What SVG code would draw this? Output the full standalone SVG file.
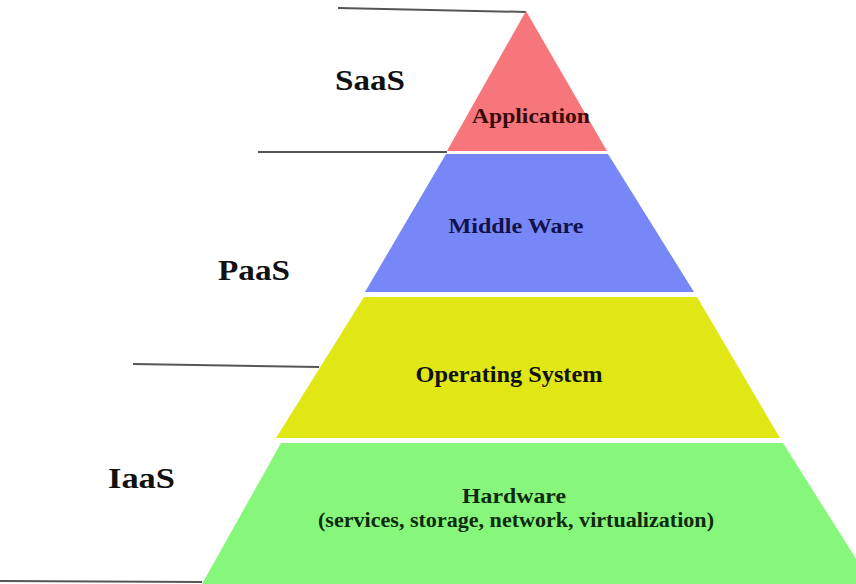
<svg xmlns="http://www.w3.org/2000/svg" width="856" height="584" viewBox="0 0 856 584">
<style>
.lbl{font-family:"Liberation Serif","Times New Roman",serif;font-weight:bold;fill:#111;}
.big{font-size:30px;}
.in{text-anchor:middle;}
.ln{stroke:#555;stroke-width:2;fill:none;}
</style>
<rect width="856" height="584" fill="#fff"/>
<g id="connectors">
<line class="ln" x1="338" y1="8" x2="526" y2="12"/>
<line class="ln" x1="258" y1="152" x2="447" y2="152"/>
<line class="ln" x1="133" y1="364" x2="319" y2="367"/>
<line class="ln" x1="0" y1="581" x2="202" y2="582"/>
</g>
<g id="application">
<polygon points="526,11 607,151 447,151" fill="#F7767C"/>
<text class="lbl in" x="531" y="123" style="font-size:21px;fill:#3a0a0a" textLength="118" lengthAdjust="spacingAndGlyphs">Application</text>
</g>
<g id="middleware">
<polygon points="446,154 608,154 694,292 365,292" fill="#7887F8"/>
<text class="lbl in" x="516" y="233" style="font-size:22px;fill:#12124a" textLength="135" lengthAdjust="spacingAndGlyphs">Middle Ware</text>
</g>
<g id="os">
<polygon points="364,297 697,297 780,438 276,438" fill="#E1E714"/>
<text class="lbl in" x="509" y="382" style="font-size:23px" textLength="187" lengthAdjust="spacingAndGlyphs">Operating System</text>
</g>
<g id="hardware">
<polygon points="281,443 783,443 872,584 202,584" fill="#87F77B"/>
<text class="lbl in" x="514" y="503" style="font-size:22px;fill:#0d2a0d" textLength="104" lengthAdjust="spacingAndGlyphs">Hardware</text>
<text class="lbl in" x="516" y="527" style="font-size:20px;fill:#0d2a0d" textLength="396" lengthAdjust="spacingAndGlyphs">(services, storage, network, virtualization)</text>
</g>
<g id="saas"><text class="lbl big" x="335" y="90" textLength="70" lengthAdjust="spacingAndGlyphs">SaaS</text></g>
<g id="paas"><text class="lbl big" x="218" y="280" textLength="72" lengthAdjust="spacingAndGlyphs">PaaS</text></g>
<g id="iaas"><text class="lbl big" x="108" y="488" textLength="67" lengthAdjust="spacingAndGlyphs">IaaS</text></g>
</svg>
